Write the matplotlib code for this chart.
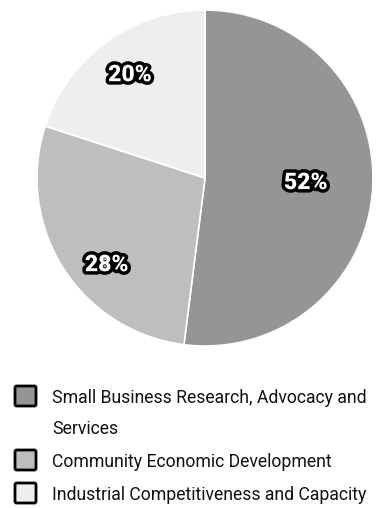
import matplotlib
matplotlib.use("Agg")
from matplotlib import pyplot as plt
from matplotlib import patheffects
from matplotlib.patches import FancyBboxPatch
import numpy as np

categories = ["Small Business Research, Advocacy and\nServices",
              "Community Economic Development",
              "Industrial Competitiveness and Capacity"]
shares = [52, 28, 20]
colors = ["#959595", "#bebebe", "#eeeeee"]
label_dist = [0.60, 0.78, 0.76]
label_turn = [1, 9, 0]   # degrees, label nudge from slice middle

plt.rcParams['font.family'] = ['Roboto', 'DejaVu Sans']

fig = plt.figure(figsize=(3.8, 5.08), dpi=100)
ax = fig.add_axes([37 / 380, 1 - 346 / 508, 336 / 380, 336 / 508])

wedges, _ = ax.pie(shares, colors=colors, startangle=90, counterclock=False,
                   wedgeprops=dict(edgecolor="white", linewidth=1.2))
ax.set_xlim(-1, 1)
ax.set_ylim(-1, 1)
ax.set_aspect("equal")
ax.axis("off")

for w, v, d, t in zip(wedges, shares, label_dist, label_turn):
    ang = np.deg2rad((w.theta1 + w.theta2) / 2 + t)
    ax.text(d * np.cos(ang), d * np.sin(ang), f"{v}%", ha="center", va="center",
            fontsize=16.5, fontweight="heavy", color="white",
            path_effects=[patheffects.withStroke(linewidth=5, foreground="black")])

# legend drawn by hand so the box lines up with the first text line
rows_y = [396, 460, 493]
for lab, c, y in zip(categories, colors, rows_y):
    box = FancyBboxPatch((15 / 380, 1 - (y + 10) / 508), 21 / 380, 20 / 508,
                         boxstyle="round,pad=0,rounding_size=0.004",
                         transform=fig.transFigure, facecolor=c,
                         edgecolor="black", linewidth=2)
    fig.patches.append(box)
    fig.text(52 / 380, 1 - (y - 7) / 508, lab, ha="left", va="top",
             fontsize=12.7, color="#111111", linespacing=1.9)

fig.savefig("out.png", dpi=100)
